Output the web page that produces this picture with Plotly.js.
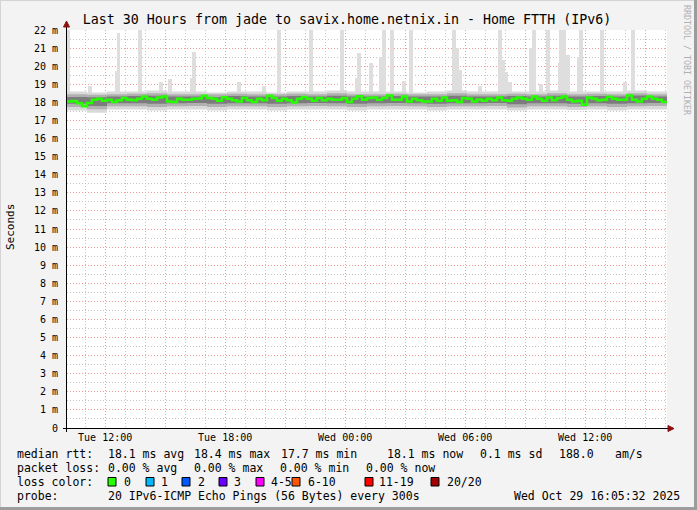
<!DOCTYPE html>
<html><head><meta charset="utf-8">
<script src="https://cdn.plot.ly/plotly-3.0.1.min.js"></script>
<style>html,body{margin:0;padding:0;background:#f3f3f3;}#chart{width:697px;height:510px;}</style>
</head><body><div id="chart"></div>
<script>
// ---------- data ----------
const START = '2025-10-28 10:05:32';
const END = '2025-10-29 16:05:32';
const MEDIAN_STEP_MIN = 15;   // median samples every 15 minutes
const BAND_STEP_MIN = 60;     // smoke envelope samples every hour

const medianRtt = [
 18.05,18.08,17.95,17.78,17.97,18.14,18.20,18.09,18.14,18.02,
 18.12,18.24,18.14,18.12,18.20,18.33,18.20,18.14,18.27,18.33,
 18.05,18.02,18.20,18.14,18.14,18.20,18.22,18.36,18.24,18.20,
 18.09,18.28,18.20,18.12,18.05,18.26,18.12,18.02,18.20,18.12,
 18.36,18.24,18.09,18.20,18.12,17.99,18.20,18.29,18.20,18.09,
 18.24,18.12,18.20,18.14,18.14,18.24,18.02,18.20,18.34,18.14,
 18.24,18.27,18.14,18.24,18.38,18.14,18.14,18.33,18.05,18.20,
 18.12,18.05,18.05,18.20,18.09,18.27,18.09,18.12,18.02,18.24,
 18.20,18.05,18.16,18.09,18.20,18.12,18.27,18.12,18.09,18.20,
 18.27,18.20,18.14,18.33,18.20,18.09,18.27,18.12,18.24,18.33,
 18.14,18.05,18.09,17.87,18.27,18.20,18.12,18.14,18.31,18.20,
 18.14,18.14,18.38,18.14,18.05,18.20,18.33,18.20,18.14,18.02
];
const outerHigh = [18.60,18.55,18.60,18.60,18.65,18.60,18.60,18.55,18.60,18.60,18.55,18.60,18.60,18.65,18.60,18.60,18.60,18.55,18.60,18.65,18.60,18.60,18.60,18.60,18.65,18.60,18.60,18.60,18.65,18.60,18.60];
const outerLow  = [17.55,17.42,17.60,17.60,17.55,17.60,17.60,17.55,17.60,17.60,17.55,17.60,17.60,17.60,17.55,17.60,17.60,17.60,17.55,17.60,17.60,17.60,17.55,17.60,17.60,17.58,17.60,17.55,17.60,17.60,17.60];
const midHigh   = [18.45,18.42,18.45,18.48,18.50,18.45,18.45,18.45,18.48,18.45,18.45,18.48,18.45,18.50,18.45,18.45,18.48,18.45,18.45,18.50,18.45,18.45,18.48,18.45,18.50,18.45,18.48,18.45,18.50,18.45,18.45];
const midLow    = [17.75,17.62,17.78,17.78,17.75,17.78,17.80,17.75,17.78,17.78,17.75,17.78,17.80,17.78,17.75,17.78,17.80,17.78,17.75,17.78,17.78,17.80,17.72,17.78,17.78,17.75,17.78,17.75,17.78,17.80,17.78];
const innerHigh = [18.30,18.28,18.32,18.35,18.36,18.32,18.32,18.30,18.35,18.32,18.32,18.35,18.32,18.36,18.32,18.32,18.35,18.32,18.32,18.36,18.32,18.32,18.35,18.32,18.36,18.32,18.35,18.32,18.38,18.32,18.30];
const innerLow  = [17.92,17.80,17.95,17.95,17.92,17.95,17.96,17.92,17.95,17.95,17.92,17.95,17.96,17.95,17.92,17.95,17.96,17.95,17.92,17.95,17.95,17.96,17.90,17.95,17.95,17.92,17.95,17.92,17.95,17.96,17.95];

const spikeTimes = ['2025-10-28 10:08','2025-10-28 11:14','2025-10-28 12:35','2025-10-28 12:40','2025-10-28 13:44',
 '2025-10-28 14:29','2025-10-28 14:47','2025-10-28 15:14','2025-10-28 16:20','2025-10-28 16:26',
 '2025-10-28 18:41','2025-10-28 19:56','2025-10-28 20:41','2025-10-28 22:17','2025-10-28 23:50',
 '2025-10-29 00:35','2025-10-29 00:41','2025-10-29 01:17','2025-10-29 01:47','2025-10-29 01:56',
 '2025-10-29 02:20','2025-10-29 02:56','2025-10-29 03:17','2025-10-29 05:26','2025-10-29 05:35',
 '2025-10-29 05:44','2025-10-29 06:44','2025-10-29 07:44','2025-10-29 07:53','2025-10-29 08:02',
 '2025-10-29 08:14','2025-10-29 09:17','2025-10-29 09:26','2025-10-29 09:47','2025-10-29 10:08',
 '2025-10-29 10:44','2025-10-29 10:47','2025-10-29 10:56','2025-10-29 11:08','2025-10-29 11:41',
 '2025-10-29 11:47','2025-10-29 12:50','2025-10-29 13:59','2025-10-29 14:23'];
const spikeMax = [22,18.9,19.75,21.85,22,
 18.65,19.1,19.3,19.35,20.8,
 19.1,18.9,22,22,22,
 19.35,20.75,20.2,20.5,22,
 22,19.2,22,22,21.0,
 19.8,18.9,22,20.35,19.7,
 19.1,21.0,22,19.0,22,
 20.2,22,22,20.6,20.5,
 22,22,19.1,22];

const xTickVals = ['2025-10-28 12:00','2025-10-28 15:00','2025-10-28 18:00','2025-10-28 21:00','2025-10-29 00:00',
 '2025-10-29 03:00','2025-10-29 06:00','2025-10-29 09:00','2025-10-29 12:00','2025-10-29 15:00'];
const xTickText = ['Tue 12:00','','Tue 18:00','','Wed 00:00','','Wed 06:00','','Wed 12:00',''];
const yTickVals = [0,1,2,3,4,5,6,7,8,9,10,11,12,13,14,15,16,17,18,19,20,21,22];
const yTickText = ['0','1 m','2 m','3 m','4 m','5 m','6 m','7 m','8 m','9 m','10 m','11 m','12 m','13 m','14 m','15 m','16 m','17 m','18 m','19 m','20 m','21 m','22 m'];

const titleText = 'Last 30 Hours from jade to savix.home.netnix.in - Home FTTH (IPv6)';
const rttItems = ['median rtt:','18.1 ms avg','18.4 ms max','17.7 ms min','18.1 ms now','0.1 ms sd','188.0','am/s'];
const lossItems = ['packet loss:','0.00 % avg','0.00 % max','0.00 % min','0.00 % now'];
const lossColorLabels = ['0','1','2','3','4-5','6-10','11-19','20/20'];
const lossColors = ['#26ff00','#00b8ff','#0059ff','#6a00ff','#ff00ff','#ff5500','#ff0000','#a00000'];
const probeItems = ['probe:','20 IPv6-ICMP Echo Pings (56 Bytes) every 300s','Wed Oct 29 16:05:32 2025'];

// ---------- helpers ----------
function addMin(s, m){ const d = new Date(s.replace(' ','T')+'Z'); d.setUTCMinutes(d.getUTCMinutes()+m);
  return d.toISOString().replace('T',' ').slice(0,19); }
const medX = medianRtt.map((_,i)=>addMin(START, i*MEDIAN_STEP_MIN));
const medXf = medX.concat([END]);
const medYf = medianRtt.concat([medianRtt[medianRtt.length-1]]);
const bandX = outerHigh.map((_,i)=>addMin(START, i*BAND_STEP_MIN));

const L=67, R=667, T=30, B=428;
const PX = p => (p-L)/(R-L);
const PY = p => (B-p)/(B-T);
const MONO = 'DejaVu Sans Mono';

function band(lo, hi, color){
  return [
    {x:bandX, y:lo, type:'scatter', mode:'lines', line:{width:0, shape:'hv'}, hoverinfo:'skip', showlegend:false},
    {x:bandX, y:hi, type:'scatter', mode:'lines', line:{width:0, shape:'hv'}, fill:'tonexty', fillcolor:color, hoverinfo:'skip', showlegend:false}
  ];
}

const traces = [
  {x:spikeTimes, y:spikeMax.map(v=>v-18.5), base:18.5, type:'bar', width:11*60000,
   marker:{color:'#dedede', line:{width:0}}, showlegend:false, hoverinfo:'skip'},
  ...band(outerLow, outerHigh, '#d9d9d9'),
  ...band(midLow, midHigh, '#b0b0b0'),
  ...band(innerLow, innerHigh, '#7c7c7c'),
  {x:medXf, y:medYf, type:'scatter', mode:'lines', line:{color:'#26ff00', width:2.5, shape:'hv'}, showlegend:false}
];

// ---------- annotations ----------
const ann = [];
function txt(text, x, y, opts){ ann.push(Object.assign({text:text, xref:'paper', yref:'paper', x:PX(x), y:PY(y),
  xanchor:'left', yanchor:'middle', showarrow:false, borderpad:0, font:{family:MONO, size:11.5, color:'#000'}}, opts||{})); }
const rttX = [16,107,193,280,386,479,558,614];
rttItems.forEach((t,i)=>txt(t, rttX[i], 454));
const lossX = [16,107,193,279,365];
lossItems.forEach((t,i)=>txt(t, lossX[i], 468));
txt('loss color:', 16, 482);
const boxX = [108,146,182,219,256,292,365,431];
const labX = [123,160,197,233,270,307,378,446];
lossColorLabels.forEach((t,i)=>txt(t, labX[i], 482));
txt(probeItems[0], 16, 496);
txt(probeItems[1], 107, 496);
txt(probeItems[2], 681, 496, {xanchor:'right'});
txt('Seconds', 10, 227, {textangle:-90, xanchor:'center', font:{family:MONO, size:11, color:'#000'}});
txt('RRDTOOL / TOBI OETIKER', 687, 60, {textangle:90, xanchor:'center', font:{family:MONO, size:8.3, color:'#b0b0b0'}});

// ---------- shapes ----------
const shapes = [];
lossColors.forEach((c,i)=>shapes.push({type:'rect', xref:'paper', yref:'paper',
  x0:PX(boxX[i]), x1:PX(boxX[i]+8), y0:PY(477.5), y1:PY(486), fillcolor:c, line:{color:'#000', width:1}}));
// axes
shapes.push({type:'line', xref:'paper', yref:'paper', x0:PX(63), x1:PX(668), y0:PY(428.5), y1:PY(428.5), line:{color:'#000', width:1}});
shapes.push({type:'line', xref:'paper', yref:'paper', x0:PX(66.5), x1:PX(66.5), y0:PY(432), y1:PY(24), line:{color:'#000', width:1}});
// arrows
shapes.push({type:'path', xref:'paper', yref:'paper', path:`M ${PX(63.5)} ${PY(27)} L ${PX(69.5)} ${PY(27)} L ${PX(66.5)} ${PY(21)} Z`, fillcolor:'#8b1010', line:{color:'#8b1010', width:1}});
shapes.push({type:'path', xref:'paper', yref:'paper', path:`M ${PX(668)} ${PY(425.5)} L ${PX(668)} ${PY(431.5)} L ${PX(674)} ${PY(428.5)} Z`, fillcolor:'#8b1010', line:{color:'#8b1010', width:1}});
// frame
shapes.push({type:'line', xref:'paper', yref:'paper', x0:PX(0), x1:PX(697), y0:PY(0.5), y1:PY(0.5), line:{color:'#d4d4d4', width:1}});
shapes.push({type:'line', xref:'paper', yref:'paper', x0:PX(0.5), x1:PX(0.5), y0:PY(0), y1:PY(510), line:{color:'#d4d4d4', width:1}});
shapes.push({type:'line', xref:'paper', yref:'paper', x0:PX(695.5), x1:PX(695.5), y0:PY(0), y1:PY(510), line:{color:'#9c9c9c', width:3}});
shapes.push({type:'line', xref:'paper', yref:'paper', x0:PX(0), x1:PX(697), y0:PY(508.5), y1:PY(508.5), line:{color:'#9c9c9c', width:3}});

const DOTS = '1px,2px';
const layout = {
  width:697, height:510,
  margin:{l:L, r:697-R, t:T, b:510-B, pad:0},
  paper_bgcolor:'#f3f3f3', plot_bgcolor:'#ffffff',
  showlegend:false, hovermode:false, bargap:0,
  title:{text:titleText, xref:'container', x:347/697, xanchor:'center', yref:'container', y:1-19/510, yanchor:'middle',
         font:{family:MONO, size:13.3, color:'#000'}},
  xaxis:{type:'date', range:[START, END], tickmode:'array', tickvals:xTickVals, ticktext:xTickText,
         showgrid:true, gridcolor:'#f59a9a', griddash:DOTS, gridwidth:1,
         minor:{dtick:3600000, tick0:'2025-10-28 00:00', showgrid:true, gridcolor:'#c4c4c4', griddash:DOTS, gridwidth:1},
         ticks:'', showline:false, zeroline:false, ticklabelstandoff:2,
         tickfont:{family:MONO, size:10, color:'#000'}, fixedrange:true},
  yaxis:{range:[0,22], tickmode:'array', tickvals:yTickVals, ticktext:yTickText,
         showgrid:true, gridcolor:'#f59a9a', griddash:DOTS, gridwidth:1,
         minor:{dtick:0.5, tick0:0, showgrid:true, gridcolor:'#c4c4c4', griddash:DOTS, gridwidth:1},
         ticks:'', showline:false, zeroline:false, ticklabelstandoff:8,
         tickfont:{family:MONO, size:10, color:'#000'}, fixedrange:true},
  annotations:ann, shapes:shapes
};
Plotly.newPlot('chart', traces, layout, {staticPlot:true, displayModeBar:false});
</script></body></html>
